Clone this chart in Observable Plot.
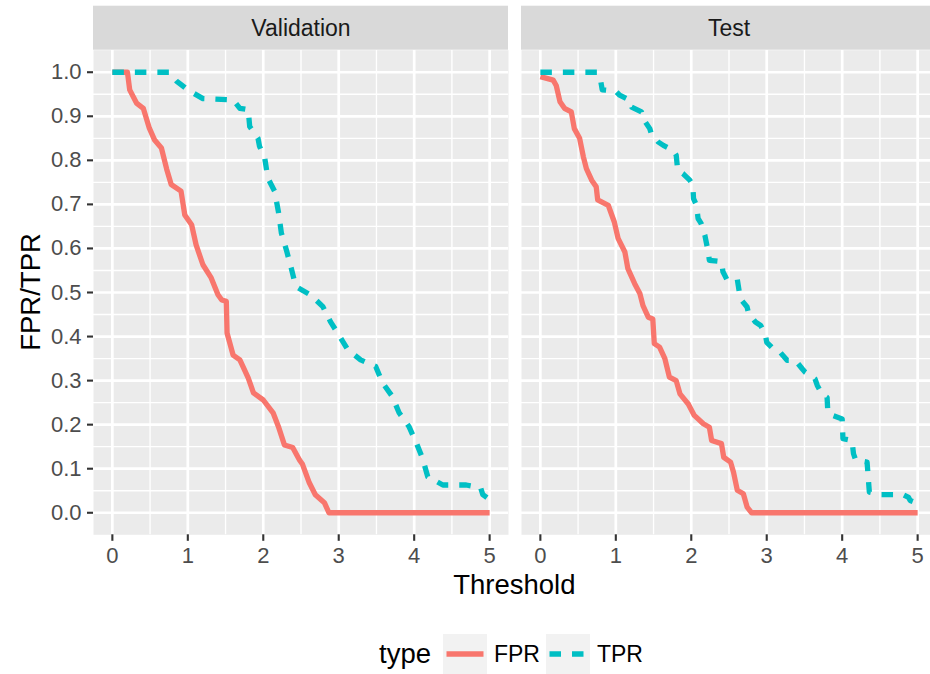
<!DOCTYPE html>
<html>
<head>
<meta charset="utf-8">
<script src="https://cdn.jsdelivr.net/npm/d3@7"></script>
<script src="https://cdn.jsdelivr.net/npm/@observablehq/plot@0.6"></script>
<style>
  html, body { margin: 0; padding: 0; background: #ffffff; width: 930px; height: 674px; overflow: hidden; }
  #chart { width: 940px; height: 610px; }
  #chart svg { display: block; max-width: none !important; }
  #legend { height: 88px; width: 1028px; display: flex; align-items: center; justify-content: center;
            font-family: "Liberation Sans", Arial, sans-serif; color: #000; box-sizing: border-box; }
  #legend .title { font-size: 27.5px; margin-right: 12px; }
  #legend .key { width: 44px; height: 40px; background: #F2F2F2; display: block; }
  #legend .lab { font-size: 23px; margin: 0 6px 0 7px; }
</style>
</head>
<body>
<div id="chart"></div>
<div id="legend"></div>
<script>
// ---------- data ----------
const sets = ["Validation", "Test"];
const types = ["FPR", "TPR"];
const typeColors = ["#F8766D", "#00BFC4"];

const xTicks = [0, 1, 2, 3, 4, 5];
const xMinor = [0.5, 1.5, 2.5, 3.5, 4.5];
const yTicks = [0.0, 0.1, 0.2, 0.3, 0.4, 0.5, 0.6, 0.7, 0.8, 0.9, 1.0];
const yMinor = [0.05, 0.15, 0.25, 0.35, 0.45, 0.55, 0.65, 0.75, 0.85, 0.95];

// Validation
const valFprX = [0, 0.2, 0.23, 0.32, 0.41, 0.49, 0.56, 0.65, 0.72, 0.78, 0.91, 0.96, 1.05, 1.11, 1.2, 1.31, 1.4, 1.45, 1.51, 1.52, 1.6, 1.69, 1.8, 1.87, 2.0, 2.13, 2.2, 2.28, 2.39, 2.48, 2.52, 2.61, 2.69, 2.81, 2.87, 5.0];
const valFprY = [1.0, 1.0, 0.96, 0.93, 0.918, 0.873, 0.846, 0.828, 0.78, 0.745, 0.73, 0.676, 0.654, 0.608, 0.563, 0.533, 0.495, 0.483, 0.48, 0.408, 0.358, 0.347, 0.306, 0.272, 0.256, 0.227, 0.196, 0.154, 0.148, 0.12, 0.11, 0.068, 0.041, 0.023, 0.0, 0.0];
const valTprX = [0, 0.75, 0.85, 1.0, 1.2, 1.6, 1.69, 1.8, 1.82, 1.93, 1.95, 2.02, 2.06, 2.15, 2.2, 2.24, 2.31, 2.37, 2.43, 2.63, 2.79, 2.89, 3.0, 3.12, 3.29, 3.49, 3.58, 3.71, 3.8, 3.93, 4.02, 4.11, 4.18, 4.38, 4.69, 4.88, 4.91, 5.0];
const valTprY = [1.0, 1.0, 0.98, 0.96, 0.94, 0.937, 0.918, 0.915, 0.877, 0.85, 0.832, 0.805, 0.76, 0.73, 0.684, 0.635, 0.594, 0.556, 0.514, 0.494, 0.468, 0.434, 0.404, 0.37, 0.347, 0.332, 0.295, 0.264, 0.227, 0.196, 0.162, 0.124, 0.082, 0.063, 0.063, 0.057, 0.041, 0.03];

// Test
const testFprX = [0, 0.17, 0.21, 0.26, 0.32, 0.41, 0.45, 0.52, 0.57, 0.61, 0.68, 0.74, 0.76, 0.9, 0.98, 1.03, 1.12, 1.16, 1.25, 1.32, 1.36, 1.43, 1.49, 1.51, 1.58, 1.65, 1.71, 1.8, 1.85, 1.96, 2.04, 2.16, 2.24, 2.27, 2.4, 2.43, 2.52, 2.56, 2.61, 2.69, 2.74, 2.8, 5.0];
const testFprY = [0.99, 0.982, 0.97, 0.933, 0.918, 0.91, 0.872, 0.85, 0.808, 0.781, 0.755, 0.74, 0.71, 0.698, 0.66, 0.623, 0.592, 0.554, 0.52, 0.497, 0.47, 0.444, 0.44, 0.384, 0.376, 0.35, 0.308, 0.3, 0.27, 0.247, 0.221, 0.202, 0.194, 0.164, 0.157, 0.126, 0.115, 0.092, 0.051, 0.043, 0.013, 0.0, 0.0];
const testTprX = [0, 0.75, 0.8, 0.82, 1.0, 1.05, 1.18, 1.21, 1.34, 1.36, 1.45, 1.47, 1.56, 1.63, 1.76, 1.8, 1.82, 1.89, 1.98, 2.02, 2.03, 2.07, 2.09, 2.13, 2.18, 2.22, 2.24, 2.4, 2.42, 2.47, 2.61, 2.65, 2.74, 2.76, 2.85, 2.92, 2.98, 3.0, 3.11, 3.18, 3.27, 3.38, 3.47, 3.51, 3.64, 3.67, 3.73, 3.8, 3.81, 3.87, 4.0, 4.01, 4.13, 4.15, 4.18, 4.33, 4.34, 4.36, 4.51, 4.81, 4.88, 4.9, 4.99];
const testTprY = [1.0, 1.0, 0.98, 0.96, 0.957, 0.948, 0.937, 0.921, 0.91, 0.895, 0.872, 0.861, 0.842, 0.834, 0.823, 0.812, 0.778, 0.77, 0.755, 0.744, 0.713, 0.698, 0.668, 0.657, 0.63, 0.596, 0.573, 0.57, 0.547, 0.53, 0.53, 0.486, 0.467, 0.452, 0.433, 0.425, 0.406, 0.387, 0.368, 0.364, 0.346, 0.346, 0.327, 0.319, 0.304, 0.289, 0.27, 0.262, 0.228, 0.221, 0.213, 0.168, 0.164, 0.134, 0.119, 0.115, 0.092, 0.047, 0.041, 0.041, 0.035, 0.028, 0.022];

const xLabel = "Threshold";
const yLabel = "FPR/TPR";
const legendTitle = "type";

// ---------- table ----------
function series(set, type, xs, ys) {
  return xs.map((x, i) => ({set, type, threshold: x, rate: ys[i]}));
}
const fprRows = [...series("Validation", "FPR", valFprX, valFprY), ...series("Test", "FPR", testFprX, testFprY)];
const tprRows = [...series("Validation", "TPR", valTprX, valTprY), ...series("Test", "TPR", testTprX, testTprY)];

// ---------- layout ----------
const W = 940, H = 610;
const mL = 92.7, mR = W - 936, mT = 49.7, mB = H - 534.3;
const font = "'Liberation Sans', Arial, Helvetica, sans-serif";

const chart = Plot.plot({
  width: W,
  height: H,
  marginLeft: mL,
  marginRight: mR,
  marginTop: mT,
  marginBottom: mB,
  style: {fontFamily: font, fontSize: "22px", color: "#4D4D4D", background: "transparent", overflow: "visible", maxWidth: "none"},
  fx: {domain: sets, axis: null, paddingInner: 0.0304, paddingOuter: 0, label: null},
  x: {domain: [-0.25, 5.25], label: null},
  y: {domain: [-0.05, 1.05], label: null},
  marks: [
    Plot.frame({fill: "#EBEBEB"}),
    Plot.ruleX(xMinor, {stroke: "#FFFFFF", strokeWidth: 1.35}),
    Plot.ruleY(yMinor, {stroke: "#FFFFFF", strokeWidth: 1.35}),
    Plot.ruleX(xTicks, {stroke: "#FFFFFF", strokeWidth: 2.7}),
    Plot.ruleY(yTicks, {stroke: "#FFFFFF", strokeWidth: 2.7}),
    Plot.rect(sets, {fx: d => d, fill: "#D9D9D9", insetTop: -44, insetBottom: 534.3 - 49.7}),
    Plot.text(sets, {fx: d => d, text: d => d, frameAnchor: "top", lineAnchor: "middle", dy: -22, fill: "#1A1A1A", fontSize: 23}),
    Plot.line(fprRows, {fx: "set", x: "threshold", y: "rate", stroke: typeColors[0], strokeWidth: 5.3,
                        strokeLinejoin: "round", strokeLinecap: "butt"}),
    Plot.line(tprRows, {fx: "set", x: "threshold", y: "rate", stroke: typeColors[1], strokeWidth: 5.3,
                        strokeDasharray: "11.5,11", strokeLinejoin: "round", strokeLinecap: "butt"}),
    Plot.axisX({ticks: xTicks, tickSize: 6.5, tickPadding: 6, tickFormat: d3.format("d"),
                stroke: "#333333", strokeWidth: 2.1, fill: "#4D4D4D", fontSize: 22, label: null}),
    Plot.axisY({ticks: yTicks, tickSize: 6, tickPadding: 6, tickFormat: d3.format(".1f"),
                stroke: "#333333", strokeWidth: 2.1, fill: "#4D4D4D", fontSize: 22, label: null})
  ]
});
document.getElementById("chart").appendChild(chart);

// axis titles
const svg = d3.select(chart.tagName.toLowerCase() === "svg" ? chart : chart.querySelector("svg"));
svg.append("text")
  .attr("x", (mL + (W - mR)) / 2)
  .attr("y", 594)
  .attr("text-anchor", "middle")
  .attr("fill", "#000000")
  .style("font-family", font)
  .style("font-size", "27.5px")
  .text(xLabel);
svg.append("text")
  .attr("transform", `translate(39.5,${(mT + (H - mB)) / 2}) rotate(-90)`)
  .attr("text-anchor", "middle")
  .attr("fill", "#000000")
  .style("font-family", font)
  .style("font-size", "27.5px")
  .text(yLabel);

// legend
const legend = d3.select("#legend");
legend.append("span").attr("class", "title").text(legendTitle);
types.forEach((t, i) => {
  const key = legend.append("svg").attr("class", "key").attr("width", 44).attr("height", 40);
  key.append("line")
    .attr("x1", 3.5).attr("x2", 40.5).attr("y1", 20).attr("y2", 20)
    .attr("stroke", typeColors[i]).attr("stroke-width", 5.3)
    .attr("stroke-dasharray", t === "TPR" ? "11.5,11" : null);
  legend.append("span").attr("class", "lab").text(t);
});
</script>
</body>
</html>
